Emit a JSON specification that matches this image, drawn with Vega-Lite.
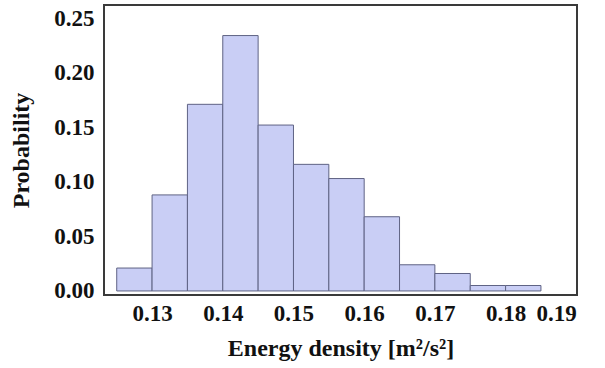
{
  "$schema": "https://vega.github.io/schema/vega-lite/v6.json",
  "width": 473,
  "height": 290,
  "autosize": "none",
  "padding": {"left": 104, "top": 5, "right": 28, "bottom": 73},
  "background": "white",
  "config": {
    "view": {"stroke": "#3a3a3a", "strokeWidth": 2},
    "axis": {
      "labelFont": "Liberation Serif",
      "labelFontWeight": "bold",
      "labelFontSize": 23,
      "labelColor": "#111111",
      "titleFont": "Liberation Serif",
      "titleFontWeight": "bold",
      "titleFontSize": 24,
      "titleColor": "#111111",
      "ticks": false,
      "domain": false,
      "grid": false
    }
  },
  "data": {
    "values": [
      {"bin_start": 0.125, "bin_end": 0.130, "prob": 0.021},
      {"bin_start": 0.130, "bin_end": 0.135, "prob": 0.088},
      {"bin_start": 0.135, "bin_end": 0.140, "prob": 0.171},
      {"bin_start": 0.140, "bin_end": 0.145, "prob": 0.234},
      {"bin_start": 0.145, "bin_end": 0.150, "prob": 0.152},
      {"bin_start": 0.150, "bin_end": 0.155, "prob": 0.116},
      {"bin_start": 0.155, "bin_end": 0.160, "prob": 0.103},
      {"bin_start": 0.160, "bin_end": 0.165, "prob": 0.068},
      {"bin_start": 0.165, "bin_end": 0.170, "prob": 0.024},
      {"bin_start": 0.170, "bin_end": 0.175, "prob": 0.016},
      {"bin_start": 0.175, "bin_end": 0.180, "prob": 0.005},
      {"bin_start": 0.180, "bin_end": 0.185, "prob": 0.005}
    ]
  },
  "mark": {"type": "bar", "fill": "#c9cef5", "stroke": "#5f6384", "strokeWidth": 1, "clip": true},
  "encoding": {
    "x": {
      "field": "bin_start",
      "type": "quantitative",
      "scale": {"domain": [0.1232, 0.1901], "nice": false, "zero": false},
      "axis": {"values": [0.13, 0.14, 0.15, 0.16, 0.17, 0.18, 0.19], "format": ".2f", "labelPadding": 7, "title": "Energy density [m²/s²]", "titlePadding": 11}
    },
    "x2": {"field": "bin_end"},
    "y": {
      "field": "prob",
      "type": "quantitative",
      "scale": {"domain": [-0.0037, 0.262], "nice": false, "zero": false},
      "axis": {"values": [0, 0.05, 0.1, 0.15, 0.2, 0.25], "format": ".2f", "labelPadding": 10, "title": "Probability", "titlePadding": 20}
    },
    "y2": {"datum": 0}
  }
}
